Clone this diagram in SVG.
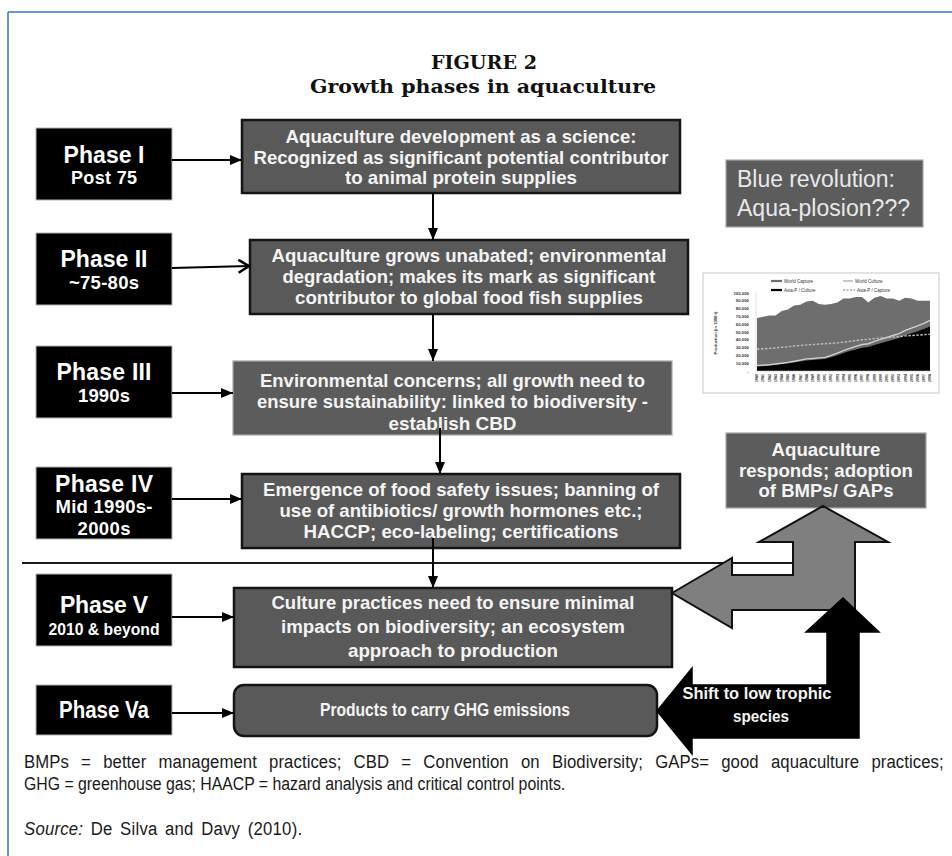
<svg xmlns="http://www.w3.org/2000/svg" width="952" height="856" viewBox="0 0 952 856">
<defs>
<style>
.box{fill:#595959;stroke:#141414;stroke-width:2.5}
.boxl{fill:#5c5c5c;stroke:#a6a6a6;stroke-width:1.2}
.ph{fill:#000;stroke:#b4b4b4;stroke-width:1}
.t{font-family:"Liberation Sans",Arial,sans-serif;font-weight:bold;fill:#f4f4f4;text-anchor:middle;font-size:18.5px}
.pt{font-family:"Liberation Sans",Arial,sans-serif;font-weight:bold;fill:#fff;text-anchor:middle}
.conn line{stroke:#000;stroke-width:2}
.fn{font-family:"Liberation Sans",Arial,sans-serif;font-size:19px;fill:#1a1a1a}
.ct{font-family:"Liberation Sans",Arial,sans-serif;fill:#333}
</style>
<marker id="ah" markerUnits="userSpaceOnUse" markerWidth="12" markerHeight="12" viewBox="0 0 12 12" refX="12" refY="6" orient="auto"><path d="M0,1 L12,6 L0,11 Z" fill="#000"/></marker>
<marker id="ch" markerUnits="userSpaceOnUse" markerWidth="14" markerHeight="16" viewBox="0 0 14 16" refX="12" refY="8" orient="auto"><path d="M1.5,1.5 L12,8 L1.5,14.5" fill="none" stroke="#000" stroke-width="2.6"/></marker>
</defs>
<rect width="952" height="856" fill="#fff"/>
<g id="frame" stroke="#2f78bf" stroke-width="1.5" fill="none">
<line x1="8" y1="12" x2="952" y2="12"/>
<line x1="8" y1="12" x2="8" y2="856"/>
</g>
<g id="title" font-family="'DejaVu Serif','Liberation Serif',serif" font-weight="bold" fill="#111" text-anchor="middle">
<text x="484" y="69" font-size="18" textLength="106" lengthAdjust="spacingAndGlyphs">FIGURE 2</text>
<text x="483" y="93" font-size="18" textLength="346" lengthAdjust="spacingAndGlyphs">Growth phases in aquaculture</text>
</g>
<line id="divider" x1="22" y1="563" x2="795" y2="563" stroke="#1a1a1a" stroke-width="2"/>
<g id="phase1"><rect class="ph" x="36" y="128" width="136" height="72"/>
<text class="pt" x="104" y="163" font-size="23" textLength="81">Phase I</text>
<text class="pt" x="104" y="184" font-size="18" textLength="66">Post 75</text></g>
<g id="phase2"><rect class="ph" x="36" y="233" width="136" height="72"/>
<text class="pt" x="104" y="267" font-size="23" textLength="87">Phase II</text>
<text class="pt" x="104" y="289" font-size="18.5" textLength="70">~75-80s</text></g>
<g id="phase3"><rect class="ph" x="36" y="346" width="136" height="72"/>
<text class="pt" x="104" y="380" font-size="23" textLength="95">Phase III</text>
<text class="pt" x="104" y="402" font-size="18.5" textLength="52">1990s</text></g>
<g id="phase4"><rect class="ph" x="36" y="467" width="136" height="72"/>
<text class="pt" x="104" y="492" font-size="23" textLength="98">Phase IV</text>
<text class="pt" x="104" y="513" font-size="18.5" textLength="97">Mid 1990s-</text>
<text class="pt" x="104" y="535" font-size="18.5" textLength="53">2000s</text></g>
<g id="phase5"><rect class="ph" x="36" y="574" width="136" height="72"/>
<text class="pt" x="104" y="613" font-size="23" textLength="88">Phase V</text>
<text class="pt" x="104" y="635" font-size="17" textLength="111" lengthAdjust="spacingAndGlyphs">2010 &amp; beyond</text></g>
<g id="phase5a"><rect class="ph" x="36" y="685" width="136" height="50"/>
<text class="pt" x="104" y="718" font-size="23" font-weight="normal" textLength="90" lengthAdjust="spacingAndGlyphs">Phase Va</text></g>
<g id="box1"><rect class="box" x="242" y="120" width="438" height="73"/>
<text class="t" x="461" y="143" textLength="351" lengthAdjust="spacingAndGlyphs">Aquaculture development as a science:</text>
<text class="t" x="461" y="163.5" textLength="415" lengthAdjust="spacingAndGlyphs">Recognized as significant potential contributor</text>
<text class="t" x="461" y="184" textLength="232" lengthAdjust="spacingAndGlyphs">to animal protein supplies</text></g>
<g id="box2"><rect class="box" x="250" y="240" width="438" height="74"/>
<text class="t" x="469" y="262" textLength="395" lengthAdjust="spacingAndGlyphs">Aquaculture grows unabated; environmental</text>
<text class="t" x="469" y="283" textLength="373" lengthAdjust="spacingAndGlyphs">degradation; makes its mark as significant</text>
<text class="t" x="469" y="304" textLength="348" lengthAdjust="spacingAndGlyphs">contributor to global food fish supplies</text></g>
<g id="box3"><rect class="boxl" x="233" y="361" width="439" height="74"/>
<text class="t" x="452.5" y="387" textLength="385" lengthAdjust="spacingAndGlyphs">Environmental concerns; all growth need to</text>
<text class="t" x="452.5" y="408" textLength="391" lengthAdjust="spacingAndGlyphs">ensure sustainability: linked to biodiversity -</text>
<text class="t" x="452.5" y="430" textLength="128" lengthAdjust="spacingAndGlyphs">establish CBD</text></g>
<g id="box4"><rect class="box" x="242" y="474" width="438" height="74"/>
<text class="t" x="461" y="496" textLength="396" lengthAdjust="spacingAndGlyphs">Emergence of food safety issues; banning of</text>
<text class="t" x="461" y="517" textLength="363" lengthAdjust="spacingAndGlyphs">use of antibiotics/ growth hormones etc.;</text>
<text class="t" x="461" y="538" textLength="315" lengthAdjust="spacingAndGlyphs">HACCP; eco-labeling; certifications</text></g>
<g id="box5"><rect class="box" x="234" y="588" width="438" height="79"/>
<text class="t" x="453" y="609" textLength="363" lengthAdjust="spacingAndGlyphs">Culture practices need to ensure minimal</text>
<text class="t" x="453" y="633" textLength="344" lengthAdjust="spacingAndGlyphs">impacts on biodiversity; an ecosystem</text>
<text class="t" x="453" y="657" textLength="210" lengthAdjust="spacingAndGlyphs">approach to production</text></g>
<g id="box6"><rect class="box" x="234" y="685" width="423" height="51" rx="10"/>
<text class="t" x="445" y="716" font-size="16.5" textLength="250" lengthAdjust="spacingAndGlyphs">Products to carry GHG emissions</text></g>
<g id="blue"><rect class="boxl" x="726" y="160" width="197" height="67"/>
<text x="737" y="187" font-family="'Liberation Sans',Arial,sans-serif" font-size="23" fill="#e8e8e8" textLength="158">Blue revolution:</text>
<text x="737" y="216" font-family="'Liberation Sans',Arial,sans-serif" font-size="23" fill="#e8e8e8" textLength="173">Aqua-plosion???</text></g>
<g id="chart">
<rect x="703" y="273" width="236" height="120" fill="#fff" stroke="#c8c8c8" stroke-width="1"/>
<line x1="771" y1="281" x2="782" y2="281" stroke="#6e6e6e" stroke-width="2.2"/>
<text class="ct" x="784" y="282.5" font-size="4.5">World Capture</text>
<line x1="843" y1="281" x2="853" y2="281" stroke="#c8c8c8" stroke-width="2"/>
<text class="ct" x="855" y="282.5" font-size="4.5">World Culture</text>
<line x1="771" y1="290" x2="782" y2="290" stroke="#000" stroke-width="2.2"/>
<text class="ct" x="784" y="291.5" font-size="4.5">Asia-P / Culture</text>
<line x1="843" y1="290" x2="855" y2="290" stroke="#aaa" stroke-width="1.5" stroke-dasharray="2 1.5"/>
<text class="ct" x="857" y="291.5" font-size="4.5">Asia-P / Capture</text>
<g class="ct" font-size="4.3" font-weight="bold" text-anchor="end">
<text x="749" y="294.5">100,000</text><text x="749" y="302.3">90,000</text><text x="749" y="310.1">80,000</text><text x="749" y="317.9">70,000</text><text x="749" y="325.7">60,000</text><text x="749" y="333.5">50,000</text><text x="749" y="341.3">40,000</text><text x="749" y="349.1">30,000</text><text x="749" y="356.9">20,000</text><text x="749" y="364.7">10,000</text><text x="749" y="372.5">-</text>
</g>
<text class="ct" font-size="4.2" font-weight="bold" text-anchor="middle" transform="translate(717,333) rotate(-90)">Production (in 1000 t)</text>
<line x1="756" y1="292" x2="756" y2="371" stroke="#ccc" stroke-width="0.6"/>
<path d="M757,371 L757,318 L763.2,316.8 L769.4,315.6 L775.5,315.6 L781.7,310.9 L787.9,309.4 L794.1,305.5 L800.3,304.7 L806.4,301.6 L812.6,300.8 L818.8,303.9 L825,304.7 L831.2,303.9 L837.3,302.4 L843.5,298.5 L849.7,298.5 L855.9,296.9 L862.1,296.9 L868.2,302.4 L874.4,297.7 L880.6,296.1 L886.8,298.5 L893,298.5 L899.1,300.8 L905.3,297.7 L911.5,298.5 L917.7,300.8 L923.9,300.8 L930,300.8 L930,371 Z" fill="#6e6e6e"/>
<path d="M757,371 L757,366.2 L763.2,365.9 L769.4,365.5 L775.5,364.8 L781.7,364.1 L787.9,363.4 L794.1,362.4 L800.3,361.4 L806.4,360.4 L812.6,360 L818.8,359.5 L825,359 L831.2,357.3 L837.3,355.2 L843.5,353.1 L849.7,351.1 L855.9,349.4 L862.1,347.7 L868.2,347 L874.4,344.9 L880.6,343.2 L886.8,341.5 L893,339.8 L899.1,338.1 L905.3,335.3 L911.5,333.2 L917.7,331.2 L923.9,329.1 L930,326.4 L930,371 Z" fill="#000"/>
<path d="M757,365.5 L763.2,365.2 L769.4,364.8 L775.5,364 L781.7,363.2 L787.9,362.4 L794.1,361.3 L800.3,360.1 L806.4,358.9 L812.6,358.5 L818.8,357.9 L825,357.4 L831.2,355.4 L837.3,353.1 L843.5,350.7 L849.7,348.4 L855.9,346.4 L862.1,344.5 L868.2,343.7 L874.4,341.4 L880.6,339.4 L886.8,337.5 L893,335.5 L899.1,333.6 L905.3,330.4 L911.5,328.1 L917.7,325.8 L923.9,323.4 L930,320.3" fill="none" stroke="#cfcfcf" stroke-width="1.4"/>
<path d="M757,349.2 L763.2,348.8 L769.4,348.4 L775.5,348 L781.7,347.2 L787.9,346.8 L794.1,346 L800.3,345.6 L806.4,344.9 L812.6,344.5 L818.8,344.1 L825,343.7 L831.2,343.3 L837.3,342.9 L843.5,342.1 L849.7,341.4 L855.9,340.6 L862.1,339.8 L868.2,339.4 L874.4,338.6 L880.6,337.9 L886.8,337.5 L893,337.1 L899.1,336.7 L905.3,335.9 L911.5,335.5 L917.7,335.1 L923.9,334.7 L930,334.3" fill="none" stroke="#bdbdbd" stroke-width="1.4" stroke-dasharray="2.5 1.5"/>
<line x1="757" y1="371" x2="931" y2="371" stroke="#bbb" stroke-width="0.6"/>
<g class="ct" font-size="3.6" font-weight="bold" text-anchor="end">
<text transform="translate(758.2,374) rotate(-90)">1980</text><text transform="translate(764.4,374) rotate(-90)">1981</text><text transform="translate(770.6,374) rotate(-90)">1982</text><text transform="translate(776.7,374) rotate(-90)">1983</text><text transform="translate(782.9,374) rotate(-90)">1984</text><text transform="translate(789.1,374) rotate(-90)">1985</text><text transform="translate(795.3,374) rotate(-90)">1986</text><text transform="translate(801.5,374) rotate(-90)">1987</text><text transform="translate(807.6,374) rotate(-90)">1988</text><text transform="translate(813.8,374) rotate(-90)">1989</text><text transform="translate(820,374) rotate(-90)">1990</text><text transform="translate(826.2,374) rotate(-90)">1991</text><text transform="translate(832.4,374) rotate(-90)">1992</text><text transform="translate(838.5,374) rotate(-90)">1993</text><text transform="translate(844.7,374) rotate(-90)">1994</text><text transform="translate(850.9,374) rotate(-90)">1995</text><text transform="translate(857.1,374) rotate(-90)">1996</text><text transform="translate(863.3,374) rotate(-90)">1997</text><text transform="translate(869.4,374) rotate(-90)">1998</text><text transform="translate(875.6,374) rotate(-90)">1999</text><text transform="translate(881.8,374) rotate(-90)">2000</text><text transform="translate(888,374) rotate(-90)">2001</text><text transform="translate(894.2,374) rotate(-90)">2002</text><text transform="translate(900.3,374) rotate(-90)">2003</text><text transform="translate(906.5,374) rotate(-90)">2004</text><text transform="translate(912.7,374) rotate(-90)">2005</text><text transform="translate(918.9,374) rotate(-90)">2006</text><text transform="translate(925.1,374) rotate(-90)">2007</text><text transform="translate(931.2,374) rotate(-90)">2008</text>
</g>
</g>
<g id="responds"><rect class="boxl" x="726" y="433" width="200" height="75"/>
<text class="t" x="826" y="456" font-size="18" textLength="109" lengthAdjust="spacingAndGlyphs">Aquaculture</text>
<text class="t" x="826" y="477" font-size="18" textLength="174" lengthAdjust="spacingAndGlyphs">responds; adoption</text>
<text class="t" x="826" y="497" font-size="18" textLength="135" lengthAdjust="spacingAndGlyphs">of BMPs/ GAPs</text></g>
<g id="grayArrow"><path d="M672,593 L732,558 L732,575 L793,575 L793,542 L759,542 L823,506 L888,542 L855,542 L855,610 L732,610 L732,628 Z" fill="#7f7f7f" stroke="#111" stroke-width="2"/></g>
<g id="blackArrow"><path d="M657,711 L692,668 L692,685 L827,685 L827,632 L806,632 L843,598 L879,632 L859,632 L859,738 L692,738 L692,754 Z" fill="#000" stroke="#000" stroke-width="1.5"/>
<text x="757" y="699" font-family="'Liberation Sans',Arial,sans-serif" font-weight="bold" font-size="17" fill="#f2f2f2" text-anchor="middle" textLength="149" lengthAdjust="spacingAndGlyphs">Shift to low trophic</text>
<text x="761" y="722" font-family="'Liberation Sans',Arial,sans-serif" font-weight="bold" font-size="17" fill="#f2f2f2" text-anchor="middle" textLength="56" lengthAdjust="spacingAndGlyphs">species</text></g>
<g id="connectors" class="conn">
<line x1="172" y1="160" x2="242" y2="160" marker-end="url(#ah)"/>
<line x1="172" y1="268" x2="249" y2="266" marker-end="url(#ch)"/>
<line x1="172" y1="393" x2="233" y2="393" marker-end="url(#ah)"/>
<line x1="172" y1="499" x2="242" y2="499" marker-end="url(#ah)"/>
<line x1="172" y1="617" x2="234" y2="617" marker-end="url(#ah)"/>
<line x1="172" y1="713" x2="234" y2="713" marker-end="url(#ah)"/>
<line x1="433" y1="193" x2="433" y2="240" marker-end="url(#ah)"/>
<line x1="433" y1="314" x2="433" y2="361" marker-end="url(#ah)"/>
<line x1="440" y1="428" x2="440" y2="474" marker-end="url(#ah)"/>
<line x1="433" y1="538" x2="433" y2="588" marker-end="url(#ah)"/>
</g>
<g id="footnote" transform="translate(24,0) scale(0.88,1)">
<text class="fn" x="0" y="768" word-spacing="8.5" textLength="1045">BMPs = better management practices; CBD = Convention on Biodiversity; GAPs= good aquaculture practices;</text>
<text class="fn" x="0" y="790" textLength="615" lengthAdjust="spacingAndGlyphs">GHG = greenhouse gas; HAACP = hazard analysis and critical control points.</text>
<text class="fn" x="0" y="835" word-spacing="3" textLength="316"><tspan font-style="italic">Source:</tspan> De Silva and Davy (2010).</text>
</g>
</svg>
